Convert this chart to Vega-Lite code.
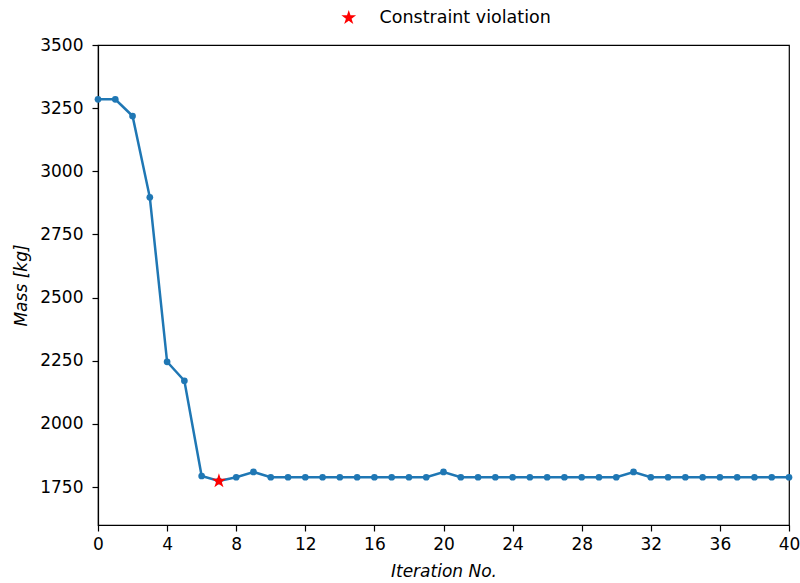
{
  "$schema": "https://vega.github.io/schema/vega-lite/v6.json",
  "width": 691,
  "height": 480,
  "autosize": "none",
  "padding": {"left": 98, "top": 45, "right": 11, "bottom": 58},
  "background": "white",
  "config": {
    "font": "DejaVu Sans",
    "view": {"stroke": "black", "strokeWidth": 1.2},
    "axis": {
      "grid": false,
      "labelFlush": false,
      "domainColor": "black",
      "domainWidth": 1.2,
      "tickColor": "black",
      "tickWidth": 1.2,
      "tickSize": 6,
      "labelFont": "DejaVu Sans",
      "labelFontSize": 17,
      "labelColor": "black",
      "labelPadding": 5,
      "titleFont": "DejaVu Sans",
      "titleFontSize": 17,
      "titleFontWeight": "normal",
      "titleFontStyle": "italic",
      "titleColor": "black"
    }
  },
  "data": {
    "values": [
      {"iter": 0, "mass": 3285, "status": "ok"},
      {"iter": 1, "mass": 3285, "status": "ok"},
      {"iter": 2, "mass": 3219, "status": "ok"},
      {"iter": 3, "mass": 2897, "status": "ok"},
      {"iter": 4, "mass": 2246, "status": "ok"},
      {"iter": 5, "mass": 2171, "status": "ok"},
      {"iter": 6, "mass": 1794, "status": "ok"},
      {"iter": 7, "mass": 1774, "status": "Constraint violation"},
      {"iter": 8, "mass": 1789, "status": "ok"},
      {"iter": 9, "mass": 1810, "status": "ok"},
      {"iter": 10, "mass": 1789, "status": "ok"},
      {"iter": 11, "mass": 1789, "status": "ok"},
      {"iter": 12, "mass": 1789, "status": "ok"},
      {"iter": 13, "mass": 1789, "status": "ok"},
      {"iter": 14, "mass": 1789, "status": "ok"},
      {"iter": 15, "mass": 1789, "status": "ok"},
      {"iter": 16, "mass": 1789, "status": "ok"},
      {"iter": 17, "mass": 1789, "status": "ok"},
      {"iter": 18, "mass": 1789, "status": "ok"},
      {"iter": 19, "mass": 1789, "status": "ok"},
      {"iter": 20, "mass": 1810, "status": "ok"},
      {"iter": 21, "mass": 1789, "status": "ok"},
      {"iter": 22, "mass": 1789, "status": "ok"},
      {"iter": 23, "mass": 1789, "status": "ok"},
      {"iter": 24, "mass": 1789, "status": "ok"},
      {"iter": 25, "mass": 1789, "status": "ok"},
      {"iter": 26, "mass": 1789, "status": "ok"},
      {"iter": 27, "mass": 1789, "status": "ok"},
      {"iter": 28, "mass": 1789, "status": "ok"},
      {"iter": 29, "mass": 1789, "status": "ok"},
      {"iter": 30, "mass": 1789, "status": "ok"},
      {"iter": 31, "mass": 1810, "status": "ok"},
      {"iter": 32, "mass": 1789, "status": "ok"},
      {"iter": 33, "mass": 1789, "status": "ok"},
      {"iter": 34, "mass": 1789, "status": "ok"},
      {"iter": 35, "mass": 1789, "status": "ok"},
      {"iter": 36, "mass": 1789, "status": "ok"},
      {"iter": 37, "mass": 1789, "status": "ok"},
      {"iter": 38, "mass": 1789, "status": "ok"},
      {"iter": 39, "mass": 1789, "status": "ok"},
      {"iter": 40, "mass": 1789, "status": "ok"}
    ]
  },
  "layer": [
    {
      "mark": {"type": "line", "color": "#1f77b4", "strokeWidth": 2.5, "point": {"filled": true, "size": 45, "color": "#1f77b4", "opacity": 1}},
      "encoding": {
        "x": {
          "field": "iter",
          "type": "quantitative",
          "scale": {"domain": [0, 40], "nice": false, "zero": false},
          "axis": {"orient": "bottom", "values": [0, 4, 8, 12, 16, 20, 24, 28, 32, 36, 40], "format": "d", "title": "Iteration No.", "titlePadding": 11}
        },
        "y": {
          "field": "mass",
          "type": "quantitative",
          "scale": {"domain": [1600, 3500], "nice": false, "zero": false},
          "axis": {"orient": "left", "values": [1750, 2000, 2250, 2500, 2750, 3000, 3250, 3500], "format": "d", "labelPadding": 9, "title": "Mass  [kg]", "titlePadding": 9}
        }
      }
    },
    {
      "transform": [{"filter": {"field": "status", "equal": "Constraint violation"}}],
      "mark": {"type": "point", "filled": true, "size": 240, "opacity": 1, "shape": "M0,-1L0.2245,-0.309L0.951,-0.309L0.363,0.118L0.588,0.809L0,0.382L-0.588,0.809L-0.363,0.118L-0.951,-0.309L-0.2245,-0.309Z"},
      "encoding": {
        "x": {"field": "iter", "type": "quantitative"},
        "y": {"field": "mass", "type": "quantitative"},
        "color": {
          "field": "status",
          "type": "nominal",
          "scale": {"domain": ["Constraint violation"], "range": ["red"]},
          "legend": {
            "title": null,
            "orient": "none",
            "legendX": 242,
            "legendY": -36,
            "symbolType": "M0,-1L0.2245,-0.309L0.951,-0.309L0.363,0.118L0.588,0.809L0,0.382L-0.588,0.809L-0.363,0.118L-0.951,-0.309L-0.2245,-0.309Z",
            "symbolSize": 240,
            "symbolStrokeWidth": 0,
            "labelFont": "DejaVu Sans",
            "labelFontSize": 17.5,
            "labelLimit": 400,
            "labelColor": "black",
            "labelOffset": 22
          }
        }
      }
    }
  ]
}
